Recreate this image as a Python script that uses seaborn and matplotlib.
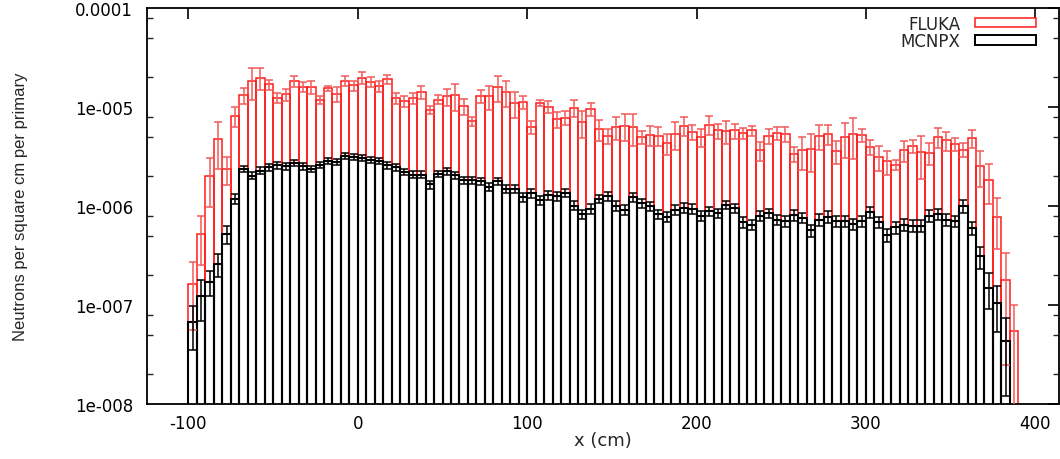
import numpy as np
import pandas as pd
import matplotlib
matplotlib.use("Agg")
import matplotlib.pyplot as plt
from matplotlib.patches import Rectangle
from matplotlib.ticker import FixedLocator, LogLocator, NullFormatter
import seaborn as sns

# Neutron fluence along x, 5 cm bins starting at -100 cm
bin_width = 5.0
x_start = -100.0

fluka_flux = [
    1.63e-7, 5.2e-7, 2.0e-6, 4.7e-6, 2.37e-6, 8.1e-6, 1.31e-5, 1.83e-5, 1.97e-5, 1.69e-5,
    1.24e-5, 1.34e-5, 1.83e-5, 1.61e-5, 1.61e-5, 1.18e-5, 1.55e-5, 1.36e-5, 1.85e-5, 1.65e-5,
    1.97e-5, 1.79e-5, 1.62e-5, 1.90e-5, 1.23e-5, 1.14e-5, 1.23e-5, 1.41e-5, 9.4e-6, 1.19e-5,
    1.28e-5, 1.31e-5, 1.02e-5, 7.2e-6, 1.29e-5, 1.28e-5, 1.59e-5, 1.41e-5, 1.09e-5, 1.12e-5,
    6.35e-6, 1.10e-5, 1.0e-5, 7.5e-6, 7.8e-6, 9.8e-6, 7.0e-6, 9.6e-6, 6.0e-6, 5.15e-6,
    6.26e-6, 6.5e-6, 6.26e-6, 4.96e-6, 5.27e-6, 5.15e-6, 4.31e-6, 5.36e-6, 6.5e-6, 5.57e-6,
    4.96e-6, 6.65e-6, 5.79e-6, 5.7e-6, 5.79e-6, 5.44e-6, 5.79e-6, 3.64e-6, 5.15e-6, 5.44e-6,
    5.36e-6, 3.36e-6, 3.64e-6, 3.78e-6, 5.15e-6, 5.36e-6, 3.58e-6, 4.96e-6, 5.36e-6, 5.24e-6,
    3.99e-6, 3.16e-6, 2.84e-6, 2.62e-6, 3.69e-6, 4.08e-6, 3.5e-6, 3.44e-6, 4.96e-6, 4.59e-6,
    4.25e-6, 3.72e-6, 4.84e-6, 2.56e-6, 1.85e-6, 7.8e-7, 1.79e-7, 5.4e-8,
]
fluka_relerr = [
    0.66, 0.51, 0.51, 0.50, 0.31, 0.23, 0.19, 0.35, 0.25, 0.12,
    0.11, 0.14, 0.12, 0.12, 0.15, 0.09, 0.06, 0.17, 0.12, 0.12,
    0.14, 0.12, 0.12, 0.10, 0.12, 0.13, 0.12, 0.15, 0.09, 0.10,
    0.20, 0.31, 0.19, 0.11, 0.14, 0.27, 0.29, 0.29, 0.29, 0.14,
    0.15, 0.08, 0.14, 0.19, 0.16, 0.19, 0.31, 0.15, 0.24, 0.17,
    0.26, 0.31, 0.36, 0.15, 0.23, 0.21, 0.24, 0.31, 0.21, 0.17,
    0.21, 0.21, 0.17, 0.26, 0.17, 0.12, 0.12, 0.21, 0.17, 0.15,
    0.17, 0.17, 0.36, 0.42, 0.29, 0.23, 0.26, 0.39, 0.44, 0.15,
    0.17, 0.29, 0.28, 0.11, 0.24, 0.15, 0.47, 0.25, 0.23, 0.21,
    0.15, 0.16, 0.20, 0.39, 0.44, 0.53, 0.86, 0.86,
]

mcnpx_flux = [
    6.7e-8, 1.24e-7, 1.72e-7, 2.6e-7, 5.2e-7, 1.18e-6, 2.37e-6, 2.03e-6, 2.28e-6, 2.47e-6,
    2.6e-6, 2.54e-6, 2.73e-6, 2.51e-6, 2.37e-6, 2.6e-6, 2.88e-6, 2.81e-6, 3.23e-6, 3.11e-6,
    3.06e-6, 2.92e-6, 2.84e-6, 2.6e-6, 2.47e-6, 2.2e-6, 2.08e-6, 2.07e-6, 1.65e-6, 2.11e-6,
    2.25e-6, 2.05e-6, 1.81e-6, 1.81e-6, 1.77e-6, 1.57e-6, 1.78e-6, 1.49e-6, 1.49e-6, 1.23e-6,
    1.35e-6, 1.14e-6, 1.28e-6, 1.25e-6, 1.35e-6, 1.01e-6, 8.3e-7, 9.35e-7, 1.18e-6, 1.26e-6,
    1.01e-6, 9.2e-7, 1.23e-6, 1.07e-6, 9.9e-7, 8.3e-7, 7.8e-7, 9.2e-7, 9.6e-7, 9.35e-7,
    8.0e-7, 8.85e-7, 8.5e-7, 1.03e-6, 9.5e-7, 6.85e-7, 6.45e-7, 8.0e-7, 8.5e-7, 7.25e-7,
    7.0e-7, 8.1e-7, 7.6e-7, 5.7e-7, 7.3e-7, 7.8e-7, 7.05e-7, 7.05e-7, 6.6e-7, 7.05e-7,
    8.65e-7, 6.85e-7, 5.1e-7, 6.1e-7, 6.5e-7, 6.35e-7, 6.35e-7, 8.0e-7, 8.3e-7, 7.3e-7,
    7.0e-7, 1.01e-6, 6.0e-7, 3.1e-7, 1.5e-7, 1.04e-7, 4.3e-8,
]
mcnpx_relerr = [
    0.47, 0.45, 0.29, 0.26, 0.20, 0.12, 0.07, 0.08, 0.08, 0.08,
    0.08, 0.08, 0.08, 0.08, 0.08, 0.07, 0.07, 0.07, 0.07, 0.07,
    0.07, 0.07, 0.07, 0.08, 0.08, 0.07, 0.08, 0.08, 0.09, 0.08,
    0.08, 0.08, 0.08, 0.08, 0.08, 0.09, 0.09, 0.09, 0.09, 0.10,
    0.10, 0.10, 0.10, 0.10, 0.09, 0.10, 0.11, 0.11, 0.09, 0.10,
    0.11, 0.11, 0.10, 0.10, 0.10, 0.11, 0.11, 0.11, 0.11, 0.11,
    0.11, 0.11, 0.11, 0.10, 0.11, 0.12, 0.12, 0.11, 0.11, 0.12,
    0.12, 0.13, 0.12, 0.14, 0.13, 0.13, 0.12, 0.12, 0.13, 0.13,
    0.13, 0.12, 0.15, 0.14, 0.13, 0.14, 0.14, 0.13, 0.12, 0.13,
    0.13, 0.15, 0.16, 0.25, 0.39, 0.49, 0.72,
]

series_names = ["FLUKA", "MCNPX"]
x_ticks = [-100, 0, 100, 200, 300, 400]
y_ticks = [1e-4, 1e-5, 1e-6, 1e-7, 1e-8]
y_tick_labels = ["0.0001", "1e-005", "1e-006", "1e-007", "1e-008"]

sns.set_theme(style="white")
plt.rcParams["font.family"] = ["DejaVu Sans"]

fig, ax = plt.subplots(figsize=(10.6, 4.6), dpi=100)
fig.subplots_adjust(left=147 / 1060, right=1059 / 1060, top=1 - 9 / 460, bottom=1 - 405 / 460)

styles = [
    (fluka_flux, fluka_relerr, "#ff1a1a", "#f25a5a", 1.1),
    (mcnpx_flux, mcnpx_relerr, "black", "black", 1.5),
]

for flux, relerr, color, ecolor, lw in styles:
    flux = np.asarray(flux)
    n = len(flux)
    centers = x_start + bin_width * (np.arange(n) + 0.5)
    df = pd.DataFrame({"x": centers, "flux": flux})
    sns.histplot(data=df, x="x", weights="flux", binwidth=bin_width,
                 binrange=(x_start, x_start + bin_width * n), fill=False,
                 element="bars", color=color, linewidth=lw, ax=ax)
    ax.errorbar(centers, flux, yerr=flux * np.asarray(relerr), fmt="none",
                ecolor=ecolor, elinewidth=1.1, capsize=3.2, capthick=1.1, zorder=3)

ax.set_yscale("log")
ax.set_xlim(-124.5, 414)
ax.set_ylim(1e-8, 1e-4)

ax.xaxis.set_major_locator(FixedLocator(x_ticks))
ax.set_xticklabels([str(t) for t in x_ticks])
ax.yaxis.set_major_locator(FixedLocator(y_ticks))
ax.set_yticklabels(y_tick_labels)
ax.yaxis.set_minor_locator(LogLocator(base=10, subs=[2, 5, 8]))
ax.yaxis.set_minor_formatter(NullFormatter())

ax.tick_params(axis="both", which="major", direction="in", length=8, width=1.2,
               top=True, right=True, labelsize=12, colors="black")
ax.tick_params(axis="y", which="major", pad=10)
ax.tick_params(axis="x", which="major", pad=7)
ax.tick_params(axis="y", which="minor", direction="in", length=4, width=1.0,
               left=True, right=True)
ax.tick_params(axis="x", which="minor", bottom=False, top=False)

for spine in ax.spines.values():
    spine.set_color("black")
    spine.set_linewidth(1.3)

ax.set_xlabel("x (cm)", fontsize=13)
ax.xaxis.set_label_coords(0.5, -0.068)
ax.set_ylabel("Neutrons per square cm per primary", fontsize=12,
              family=["Liberation Sans", "DejaVu Sans"])
ax.yaxis.set_label_coords(-0.130, 0.5)
ax.grid(False)

handles = [
    Rectangle((0, 0), 1, 1, facecolor="white", edgecolor="#ff1a1a", linewidth=1.1),
    Rectangle((0, 0), 1, 1, facecolor="white", edgecolor="black", linewidth=1.4),
]
ax.legend(handles, series_names, loc="upper right", bbox_to_anchor=(0.9824, 1.0),
          frameon=False, markerfirst=False, handlelength=3.65, handleheight=0.48,
          handletextpad=0.9, labelspacing=-0.05, borderaxespad=0.0,
          prop={"family": "DejaVu Sans", "size": 12})

fig.savefig("out.png", dpi=100, facecolor="white")
